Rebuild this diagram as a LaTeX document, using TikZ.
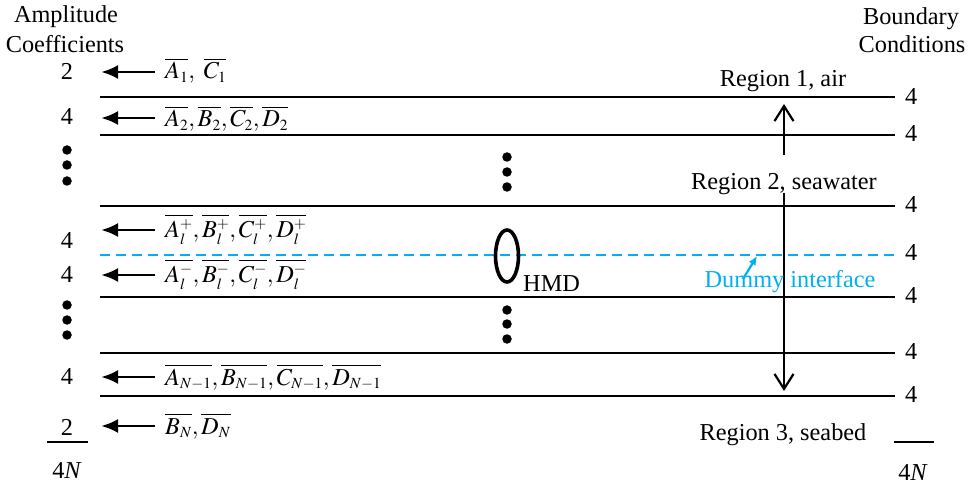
\documentclass[tikz,border=0pt]{standalone}
\usepackage{mathptmx}
\usepackage{fontspec}
\setmainfont{Liberation Serif}
\DeclareMathSizes{24.3}{24.3}{15.5}{12}
\usetikzlibrary{arrows.meta}
\definecolor{dumblue}{RGB}{0,176,240}
\begin{document}
\begin{tikzpicture}[x=1pt,y=-1pt,
  every node/.style={font=\fontsize{24.3}{29}\selectfont, inner sep=0pt},
  bnd/.style={line width=2.5pt},
  dummy/.style={draw=dumblue, line width=2.2pt, dash pattern=on 10pt off 6pt},
  leftarr/.style={-{Latex[length=17pt,width=14pt]}, line width=2.8pt},
  regarr/.style={-{Straight Barb[length=15pt,width=19pt,line width=2.2pt]}, line width=2.2pt},
  dotn/.style={circle, fill, inner sep=0pt, minimum size=9.5pt},
  lab/.style={anchor=base west},
  num/.style={anchor=base},
  rnum/.style={anchor=west}]
\useasboundingbox (0,0) rectangle (969,486);

% headings
\node[num] (amp) at (66,23) {Amplitude};
\node[num] (coef) at (65,53) {Coefficients};
\node[num] (bou) at (911,25) {Boundary};
\node[num] (cond) at (912,53) {Conditions};

% horizontal interfaces
\foreach \n/\y in {1/97,2/135,3/206,5/297,6/353,7/396}{
  \coordinate (La\n) at (100,\y);
  \coordinate (Lb\n) at (895,\y);
  \draw[bnd] (La\n) -- (Lb\n);
}
\coordinate (La4) at (100,255);
\coordinate (Lb4) at (895,255);
\draw[dummy] (La4) -- (Lb4);

% right numbers
\foreach \n/\y in {1/97,2/134,3/205,4/253,5/296,6/352,7/395}{
  \node[rnum] (r\n) at (905,\y) {4};
}
\coordinate (rl1) at (894,442);
\coordinate (rl2) at (934,442);
\draw[line width=2.5pt] (rl1) -- (rl2);
\node[num] (rtot) at (913,480) {4\textit{N}};

% left numbers
\node[num] (n1) at (67,80) {2};
\node[num] (n2) at (67,125) {4};
\node[num] (n3) at (67,249) {4};
\node[num] (n4) at (67,283) {4};
\node[num] (n5) at (67,384) {4};
\node[num] (n6) at (67,435) {2};
\coordinate (ll1) at (47,442);
\coordinate (ll2) at (88,442);
\draw[line width=2.5pt] (ll1) -- (ll2);
\node[num] (ltot) at (67,478) {4\textit{N}};

% left dots
\node[dotn] (ld1) at (67,150) {};
\node[dotn] (ld2) at (67,165) {};
\node[dotn] (ld3) at (67,181) {};
\node[dotn] (ld4) at (67,305) {};
\node[dotn] (ld5) at (67,320) {};
\node[dotn] (ld6) at (67,335) {};
% middle dots
\node[dotn] (md1) at (507,157) {};
\node[dotn] (md2) at (507,172) {};
\node[dotn] (md3) at (507,187) {};
\node[dotn] (md4) at (507,310) {};
\node[dotn] (md5) at (507,324) {};
\node[dotn] (md6) at (507,339) {};

% coefficient labels and arrows
\node[lab] (c1) at (165,79) {$\overline{A_1},\ \overline{C_1}$};
\node[lab] (c2) at (165,127) {$\overline{A_2},\overline{B_2},\overline{C_2},\overline{D_2}$};
\node[lab] (c3) at (165,238) {$\overline{A_l^+},\overline{B_l^+},\overline{C_l^+},\overline{D_l^+}$};
\node[lab] (c4) at (165,283) {$\overline{A_l^-},\overline{B_l^-},\overline{C_l^-},\overline{D_l^-}$};
\node[lab] (c5) at (165,385) {$\overline{A_{N-1}},\overline{B_{N-1}},\overline{C_{N-1}},\overline{D_{N-1}}$};
\node[lab] (c6) at (165,434) {$\overline{B_N},\overline{D_N}$};
\foreach \i/\y in {1/72,2/118,3/230,4/275,5/377,6/426}{
  \coordinate (as\i) at (155,\y);
  \coordinate (ae\i) at (101,\y);
  \draw[leftarr] (as\i) -- (ae\i);
}

% regions
\node[num] (reg1) at (783,87) {Region 1, air};
\node[num] (reg2) at (784,190) {Region 2, seawater};
\node[num] (reg3) at (783,440) {Region 3, seabed};
\coordinate (u1) at (784,155);
\coordinate (u2) at (784,104);
\draw[regarr] (u1) -- (u2);
\coordinate (d1) at (784,193);
\coordinate (d2) at (784,391);
\draw[regarr] (d1) -- (d2);

% HMD
\draw[line width=3.6pt] (507,256) ellipse [x radius=11.5pt, y radius=26pt];
\node[anchor=base west] (hmd) at (523,292) {HMD};

% dummy interface label
\node[num, text=dumblue] (dum) at (790,288) {Dummy interface};
\coordinate (dp1) at (743,279);
\coordinate (dp2) at (757,256);
\draw[dumblue, line width=2.2pt, -{Latex[length=9pt,width=8pt]}] (dp1) -- (dp2);
\end{tikzpicture}
\end{document}
